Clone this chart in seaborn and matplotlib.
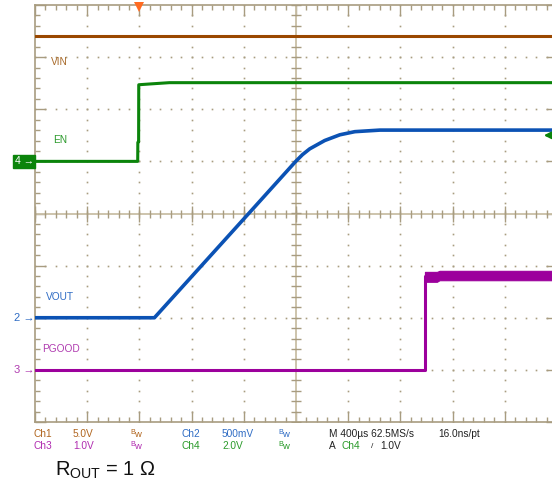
import numpy as np
import pandas as pd
import matplotlib
matplotlib.use("Agg")
import matplotlib.pyplot as plt
import seaborn as sns
from matplotlib import transforms
from matplotlib.patches import Rectangle

# ---------------- data (read from the scope capture) ----------------
t_left, t_right = -800.0, 3200.0       # µs, 400 µs/div, trigger at t=0
us_per_div = 400.0

vin_t = [-800, 3200]
vin_v = [12.0, 12.0]                   # Ch1, 5 V/div

en_t = [-800, -13, -12, -6, -5, 80, 230, 3200]
en_v = [0.0, 0.0, 0.73, 0.75, 2.94, 2.97, 3.02, 3.02]   # Ch4, 2 V/div

vout_t = [-800, 115, 852, 1198, 1250, 1305, 1420, 1536, 1651, 1843, 3200]
vout_v = [0.0, 0.0, 1.02, 1.50, 1.565, 1.62, 1.70, 1.755, 1.785, 1.80, 1.80]  # Ch2, 0.5 V/div

pg_t = [-800, 2188, 2188]
pg_v = [0.0, 0.0, 1.80]                # Ch3, 1 V/div
pg_band_t = [2188, 2280, 2300, 3200]
pg_band_hi = [1.88, 1.88, 1.90, 1.90]
pg_band_lo = [1.69, 1.69, 1.72, 1.72]

volts_per_div = {"VIN": 5.0, "VOUT": 0.5, "PGOOD": 1.0, "EN": 2.0}
ground_div = {"VIN": 1.0, "VOUT": -2.0, "PGOOD": -3.0, "EN": 1.0}
trig_level_v = 1.0

# ---------------- style ----------------
C_VIN = "#9a4800"
C_EN = "#0b840b"
C_VOUT = "#0b52b4"
C_PG = "#9c009c"
C_GRID = "#a89c80"
C_CENTER = "#c9bfa6"

sns.set_theme(style="white")
plt.rcParams["font.family"] = ["Liberation Sans", "DejaVu Sans"]

W, H = 552, 484
fig = plt.figure(figsize=(W / 100, H / 100), dpi=100)
L, R, T, B = 35, 557, 5, 422
ax = fig.add_axes([L / W, 1 - B / H, (R - L) / W, (B - T) / H])
ax.set_xlim(t_left, t_right)
ax.set_ylim(-4, 4)
ax.set_facecolor("white")

def to_div(name, v):
    return ground_div[name] + np.asarray(v, dtype=float) / volts_per_div[name]

# border ticks
ax.set_xticks(np.arange(t_left, t_right + 1, us_per_div))
ax.set_xticks(np.arange(t_left, t_right + 1, us_per_div / 5), minor=True)
ax.set_yticks(np.arange(-4, 5, 1))
ax.set_yticks(np.arange(-4, 4.01, 0.2), minor=True)
ax.tick_params(which="both", direction="in", top=True, right=True, bottom=True, left=True,
               labelbottom=False, labelleft=False, color=C_GRID, width=1.0)
ax.tick_params(which="major", length=8)
ax.tick_params(which="minor", length=3.6)
for s in ax.spines.values():
    s.set_color(C_GRID)
    s.set_linewidth(1.2)

# dotted graticule
t_center = (t_left + t_right) / 2
ys_minor = np.arange(-4, 4.01, 0.2)
xs_minor = np.arange(t_left, t_right + 1, us_per_div / 5)
for xm in np.arange(t_left + us_per_div, t_right, us_per_div):
    if abs(xm - t_center) < 1:
        continue
    ax.plot(np.full_like(ys_minor, xm), ys_minor, ls="none", marker="s", ms=1.2,
            color=C_GRID, mew=0, zorder=1)
for ym in range(-3, 4):
    if ym == 0:
        continue
    ax.plot(xs_minor, np.full_like(xs_minor, ym), ls="none", marker="s", ms=1.2,
            color=C_GRID, mew=0, zorder=1)

# centre cross with ticks
ax.axhline(0, color=C_CENTER, lw=1.3, zorder=1)
ax.axvline(t_center, color=C_CENTER, lw=1.3, zorder=1)
ax.plot(xs_minor, np.zeros_like(xs_minor), ls="none", marker="|", ms=6, mew=1.0,
        color=C_GRID, zorder=1)
xmaj = np.arange(t_left, t_right + 1, us_per_div)
ax.plot(xmaj, np.zeros_like(xmaj), ls="none", marker="|", ms=11, mew=1.0, color=C_GRID, zorder=1)
ax.plot(np.full_like(ys_minor, t_center), ys_minor, ls="none", marker="_", ms=7, mew=1.0,
        color=C_GRID, zorder=1)

# ---------------- traces ----------------
lw = 2.2
sns.lineplot(x=vin_t, y=to_div("VIN", vin_v), ax=ax, color=C_VIN, lw=lw,
             estimator=None, sort=False, zorder=3)
sns.lineplot(x=en_t, y=to_div("EN", en_v), ax=ax, color=C_EN, lw=lw,
             estimator=None, sort=False, zorder=3)
sns.lineplot(x=vout_t, y=to_div("VOUT", vout_v), ax=ax, color=C_VOUT, lw=lw + 0.4,
             estimator=None, sort=False, zorder=3)
sns.lineplot(x=pg_t, y=to_div("PGOOD", pg_v), ax=ax, color=C_PG, lw=lw,
             estimator=None, sort=False, zorder=3)
ax.fill_between(pg_band_t, to_div("PGOOD", pg_band_lo), to_div("PGOOD", pg_band_hi),
                color=C_PG, lw=0.8, zorder=3)

# trace labels
lab_kw = dict(fontsize=7.3, va="center", ha="left")
ax.text(-676, 2.91, "VIN", color="#a86a2a", **lab_kw)
ax.text(-660, 1.41, "EN", color="#2c9a2c", **lab_kw)
ax.text(-714, -1.60, "VOUT", color="#2f6cc4", **lab_kw)
ax.text(-745, -2.60, "PGOOD", color="#b03cb0", **lab_kw)

# ground markers on the left
bt = transforms.blended_transform_factory(ax.transAxes, ax.transData)
def fx(px):
    return (px - L) / (R - L)
ax.add_patch(Rectangle((fx(13), ground_div["EN"] - 0.13), fx(35) - fx(13), 0.26,
                       transform=bt, color=C_EN, clip_on=False, zorder=4))
ax.text(fx(34), ground_div["EN"], "4 →", transform=bt, color="white", fontsize=7.5,
        ha="right", va="center", clip_on=False, zorder=5)
ax.text(fx(35), ground_div["VOUT"], "2 →", transform=bt, color="#2f6cc4", fontsize=8,
        ha="right", va="center", clip_on=False)
ax.text(fx(35), ground_div["PGOOD"], "3 →", transform=bt, color="#b03cb0", fontsize=8,
        ha="right", va="center", clip_on=False)

# trigger position (top) and trigger level (right)
ax.plot([0], [4], marker="v", ms=6.5, color="#ff6a20", mew=0, clip_on=False, zorder=6,
        transform=ax.transData + transforms.ScaledTranslation(0, -1.5 / 72, fig.dpi_scale_trans))
ytrig = ground_div["EN"] + trig_level_v / volts_per_div["EN"]
ax.annotate("", xy=(fx(541), ytrig), xytext=(fx(556), ytrig), xycoords=bt, textcoords=bt,
            arrowprops=dict(arrowstyle="-|>", color=C_EN, lw=1.6, mutation_scale=10),
            annotation_clip=False, zorder=6)

# ---------------- readout text ----------------
def ftxt(px, py, s, color, size=7.3, **kw):
    fig.text(px / W, 1 - py / H, s, color=color, fontsize=size, va="center", ha="left", **kw)

def bw(px, py, color):
    ftxt(px, py - 1.5, "B", color, size=5.2)
    ftxt(px + 4.5, py + 0.5, "w", color, size=6.8)

r1, r2 = 434, 446
ftxt(34, r1, "Ch1", "#b0651e"); ftxt(73, r1, "5.0V", "#b0651e"); bw(130, r1, "#b0651e")
ftxt(182, r1, "Ch2", "#2f6cc4"); ftxt(222, r1, "500mV", "#2f6cc4"); bw(278, r1, "#2f6cc4")
ftxt(329, r1, "M 400µs 62.5MS/s", "#222222"); ftxt(438, r1, "16.0ns/pt", "#222222")
ftxt(34, r2, "Ch3", "#b02cb0"); ftxt(73, r2, "1.0V", "#b02cb0"); bw(130, r2, "#b02cb0")
ftxt(182, r2, "Ch4", "#2a9a2a"); ftxt(222, r2, "2.0V", "#2a9a2a"); bw(278, r2, "#2a9a2a")
ftxt(329, r2, "A", "#222222"); ftxt(342, r2, "Ch4", "#2a9a2a")
ftxt(371, r2, "/", "#222222", size=6); ftxt(380, r2, "1.0V", "#222222")

fig.text(55 / W, 1 - 470 / H, r"$\mathregular{R_{OUT}}$ = 1 Ω", fontsize=14.5,
         color="#111111", va="center", ha="left")

fig.savefig("out.png", dpi=100)
